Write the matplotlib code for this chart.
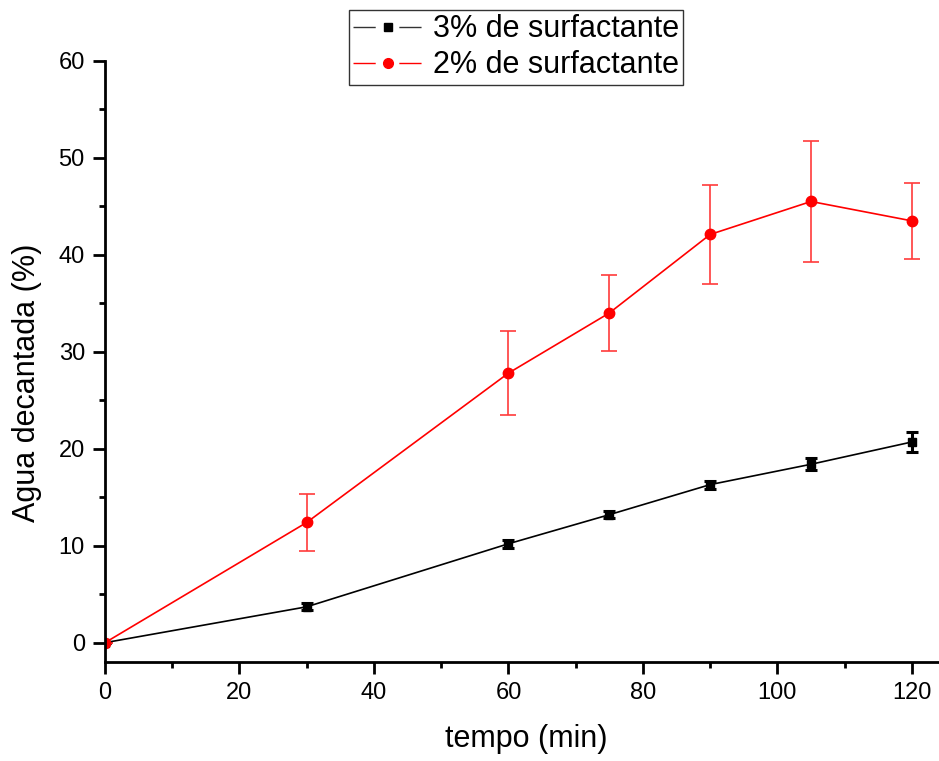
import matplotlib.pyplot as plt
from matplotlib.lines import Line2D
from matplotlib.ticker import MultipleLocator

plt.rcParams["font.family"] = ["Liberation Sans", "DejaVu Sans"]

# ── Datos ────────────────────────────────────────────────────────────────────
tempo = [0, 30, 60, 75, 90, 105, 120]

agua_3 = [0.0, 3.7, 10.2, 13.2, 16.3, 18.4, 20.7]
err_3 = [0.0, 0.35, 0.4, 0.35, 0.4, 0.6, 1.05]

agua_2 = [0.0, 12.4, 27.8, 34.0, 42.1, 45.5, 43.5]
err_2 = [0.0, 2.9, 4.3, 3.95, 5.15, 6.25, 3.95]

labels = ["3% de surfactante", "2% de surfactante"]

fig = plt.figure(figsize=(9.39, 7.61), dpi=100)
ax = fig.add_axes([0.1118, 0.130, 0.888, 0.790])

ax.errorbar(tempo, agua_3, yerr=err_3, color="black", lw=1.2,
            marker="s", ms=6, capsize=4.3, capthick=2.2, elinewidth=2.2)
ax.errorbar(tempo, agua_2, yerr=err_2, color="red", lw=1.2,
            marker="o", ms=7.5, capsize=6, capthick=1.2, elinewidth=1.2,
            ecolor="#ff3b3b")

ax.set_xlim(0, 124)
ax.set_ylim(-2, 60)
ax.xaxis.set_major_locator(MultipleLocator(20))
ax.xaxis.set_minor_locator(MultipleLocator(10))
ax.yaxis.set_major_locator(MultipleLocator(10))
ax.yaxis.set_minor_locator(MultipleLocator(5))

for s in ("top", "right"):
    ax.spines[s].set_visible(False)
for s in ("left", "bottom"):
    ax.spines[s].set_linewidth(2)

ax.tick_params(which="major", direction="out", length=8.5, width=2,
               labelsize=17, pad=6)
ax.tick_params(which="minor", direction="out", length=4.5, width=2)

ax.set_xlabel("tempo (min)", fontsize=22)
ax.set_ylabel("Agua decantada (%)", fontsize=22)
ax.xaxis.set_label_coords(0.505, -0.103)
ax.yaxis.set_label_coords(-0.075, 0.464)

# leyenda estilo Origin: linea - marcador - linea
handles = [
    Line2D([], [], color="#333333", lw=1, dashes=(16, 17),
           marker="s", ms=6, markerfacecolor="black", markeredgecolor="black"),
    Line2D([], [], color="red", lw=1, dashes=(16, 17),
           marker="o", ms=7, markerfacecolor="red", markeredgecolor="red"),
]
leg = ax.legend(handles, labels, loc="upper center",
                bbox_to_anchor=(0.493, 1.085), borderaxespad=0,
                fontsize=22, frameon=True, fancybox=False, edgecolor="black",
                handlelength=2.3, borderpad=0.15, labelspacing=0.2,
                handletextpad=0.3, numpoints=1)
leg.get_frame().set_linewidth(1)

fig.savefig("out.png", dpi=100)
